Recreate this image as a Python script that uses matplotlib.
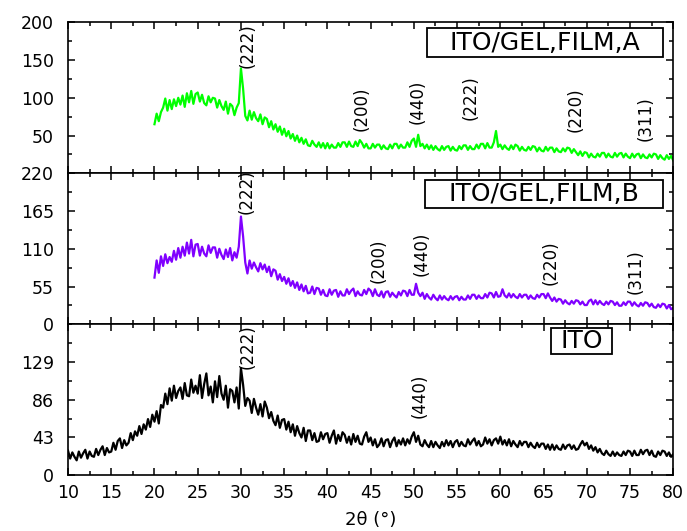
import numpy as np
import matplotlib
matplotlib.use("Agg")
import matplotlib.pyplot as plt
from matplotlib.ticker import MultipleLocator
from matplotlib.patches import Rectangle

plt.rcParams['font.family'] = ['DejaVu Sans']

# 2theta grid, 0.25 deg step
step = 0.25

# ITO (bottom panel), 10..80
ito = [
    28, 19, 26, 21, 17, 27, 20, 25, 29, 19, 27, 22, 21, 30, 23, 29,
    33, 23, 31, 26, 27, 37, 29, 39, 42, 31, 40, 34, 37, 48, 40, 50,
    45, 56, 47, 58, 52, 64, 55, 69, 61, 73, 59, 80, 77, 93, 81, 99,
    85, 102, 88, 96, 100, 87, 105, 91, 90, 109, 94, 102, 93, 114, 88, 104,
    116, 91, 101, 83, 107, 89, 113, 93, 86, 102, 77, 98, 96, 83, 100, 76,
    122, 103, 79, 88, 85, 71, 87, 77, 69, 81, 67, 84, 77, 65, 72, 62,
    57, 68, 54, 63, 64, 52, 61, 49, 58, 45, 56, 48, 43, 54, 39, 51,
    51, 40, 48, 38, 39, 49, 41, 47, 48, 37, 45, 51, 36, 46, 39, 49,
    46, 37, 44, 35, 47, 38, 45, 36, 35, 44, 49, 38, 43, 34, 41, 32,
    35, 42, 33, 40, 41, 32, 39, 43, 33, 40, 35, 42, 34, 41, 36, 44,
    49, 38, 45, 35, 33, 40, 35, 32, 39, 32, 38, 34, 31, 38, 33, 40,
    34, 39, 32, 38, 40, 33, 38, 34, 33, 41, 35, 39, 42, 34, 39, 33,
    35, 43, 36, 41, 34, 40, 42, 36, 44, 35, 40, 34, 41, 33, 39, 35,
    32, 39, 34, 38, 38, 32, 37, 33, 31, 37, 32, 36, 36, 30, 35, 29,
    35, 29, 34, 30, 29, 35, 30, 34, 35, 30, 34, 29, 30, 35, 39, 34,
    37, 30, 34, 28, 32, 26, 30, 25, 23, 28, 24, 22, 27, 22, 26, 23,
    22, 27, 23, 28, 27, 22, 28, 23, 23, 29, 24, 28, 29, 23, 28, 22,
    21, 27, 23, 28, 27, 22, 26, 21, 24,
]

# ITO/GEL,FILM,B (middle panel), 20..80
film_b = [
    68, 93, 75, 99, 85, 102, 89, 98, 91, 107, 94, 111, 97, 113, 100, 119,
    103, 123, 99, 116, 117, 100, 113, 103, 99, 115, 104, 112, 112, 97, 110, 101,
    95, 109, 98, 111, 93, 105, 97, 113, 157, 128, 90, 74, 93, 81, 90, 83,
    77, 89, 80, 87, 76, 84, 70, 80, 78, 65, 73, 63, 69, 59, 67, 56,
    63, 53, 61, 50, 58, 48, 56, 45, 46, 55, 44, 53, 52, 43, 50, 42,
    41, 51, 43, 49, 50, 40, 48, 42, 42, 51, 44, 49, 52, 41, 48, 43,
    42, 50, 44, 52, 49, 41, 51, 43, 41, 48, 39, 47, 48, 40, 46, 42,
    39, 47, 42, 49, 48, 41, 50, 43, 43, 59, 46, 41, 46, 37, 44, 39,
    36, 43, 38, 35, 42, 36, 41, 37, 35, 41, 36, 40, 41, 35, 40, 36,
    36, 42, 37, 43, 43, 37, 42, 38, 38, 44, 39, 46, 45, 39, 47, 40,
    41, 51, 42, 39, 45, 39, 44, 40, 38, 44, 39, 43, 43, 37, 42, 38,
    37, 43, 39, 44, 44, 38, 45, 39, 34, 39, 33, 37, 36, 30, 35, 31,
    29, 34, 30, 35, 34, 29, 33, 28, 28, 34, 36, 29, 35, 29, 34, 30,
    28, 33, 29, 34, 33, 28, 32, 27, 27, 32, 28, 33, 33, 27, 32, 28,
    26, 31, 27, 32, 31, 26, 30, 25, 24, 29, 25, 30, 29, 23, 28, 22,
    24,
]

# ITO/GEL,FILM,A (top panel), 20..80
film_a = [
    65, 79, 69, 81, 87, 99, 83, 97, 85, 98, 89, 100, 91, 103, 88, 106,
    94, 109, 92, 105, 107, 95, 104, 93, 90, 102, 94, 100, 99, 87, 97, 89,
    84, 95, 79, 92, 89, 77, 87, 93, 139, 112, 76, 70, 83, 71, 81, 73,
    69, 78, 65, 74, 72, 61, 69, 58, 65, 55, 62, 51, 59, 49, 56, 46,
    52, 43, 50, 41, 47, 39, 45, 37, 36, 43, 38, 35, 41, 34, 40, 33,
    40, 33, 38, 34, 34, 40, 35, 41, 41, 35, 42, 36, 35, 42, 36, 44,
    40, 34, 39, 33, 33, 39, 34, 38, 38, 32, 37, 33, 32, 38, 33, 39,
    39, 33, 38, 34, 34, 41, 35, 43, 46, 35, 51, 36, 39, 33, 38, 32,
    37, 31, 36, 32, 30, 36, 31, 35, 36, 30, 35, 31, 30, 36, 32, 37,
    37, 31, 36, 32, 32, 38, 33, 39, 39, 33, 40, 34, 34, 41, 56, 35,
    38, 32, 37, 33, 31, 37, 32, 38, 36, 30, 35, 31, 30, 35, 31, 36,
    35, 29, 34, 30, 29, 35, 30, 34, 34, 28, 33, 29, 28, 33, 29, 34,
    33, 27, 32, 28, 24, 29, 23, 28, 27, 21, 26, 22, 21, 26, 22, 27,
    27, 21, 26, 22, 21, 27, 22, 26, 27, 21, 26, 22, 20, 26, 21, 25,
    26, 20, 25, 21, 20, 25, 21, 26, 25, 19, 24, 20, 18, 24, 19, 23,
    17,
]

# peak labels: (hkl, 2theta, height of label centre)
peaks_a = [("(222)", 30.8, 169), ("(200)", 44.0, 85), ("(440)", 50.4, 95),
           ("(222)", 56.6, 100), ("(220)", 68.7, 84), ("(311)", 76.8, 72)]
peaks_b = [("(222)", 30.7, 194), ("(200)", 45.9, 93), ("(440)", 50.9, 103),
           ("(220)", 65.8, 89), ("(311)", 75.7, 77)]
peaks_ito = [("(222)", 30.8, 146), ("(440)", 50.7, 91)]

x_ito = 10 + step * np.arange(len(ito))
x_b = 20 + step * np.arange(len(film_b))
x_a = 20 + step * np.arange(len(film_a))

fig = plt.figure(figsize=(6.87, 5.31), dpi=100)
gs = fig.add_gridspec(3, 1, left=0.099, right=0.98, bottom=0.105, top=0.958, hspace=0)
ax_a = fig.add_subplot(gs[0])
ax_b = fig.add_subplot(gs[1], sharex=ax_a)
ax_c = fig.add_subplot(gs[2], sharex=ax_a)

panels = [
    (ax_a, x_a, film_a, '#00ff00', peaks_a, (0, 200), [50, 100, 150, 200], 25),
    (ax_b, x_b, film_b, '#8000ff', peaks_b, (0, 220), [0, 55, 110, 165, 220], 27.5),
    (ax_c, x_ito, ito, 'black', peaks_ito, (0, 172), [0, 43, 86, 129], 21.5),
]

for ax, xs, ys, col, peaks, ylim, yt, ymin in panels:
    ax.plot(xs, ys, color=col, lw=1.6)
    ax.set_ylim(*ylim)
    ax.set_yticks(yt)
    ax.yaxis.set_minor_locator(MultipleLocator(ymin))
    ax.xaxis.set_major_locator(MultipleLocator(5))
    ax.xaxis.set_minor_locator(MultipleLocator(2.5))
    ax.tick_params(which='both', direction='in', top=True, right=True, width=1.1)
    ax.tick_params(which='major', length=5, labelsize=12.5)
    ax.tick_params(axis='y', which='major', pad=10)
    ax.tick_params(axis='x', which='major', pad=6)
    ax.tick_params(which='minor', length=3)
    for s in ax.spines.values():
        s.set_linewidth(1.2)
    for lab, px, py in peaks:
        ax.text(px, py, lab, rotation=90, ha='center', va='center',
                fontsize=12, color='black', zorder=5)

ax_c.set_xlim(10, 80)
plt.setp(ax_a.get_xticklabels(), visible=False)
plt.setp(ax_b.get_xticklabels(), visible=False)
ax_c.set_xlabel('2θ (°)', fontsize=13, labelpad=7)

# framed sample names
names = [
    (ax_a, 'ITO/GEL,FILM,A', (0.593, 0.767, 0.390, 0.193)),
    (ax_b, 'ITO/GEL,FILM,B', (0.590, 0.768, 0.393, 0.186)),
    (ax_c, 'ITO', (0.798, 0.803, 0.100, 0.171)),
]
for ax, name, (bx, by, bw, bh) in names:
    ax.add_patch(Rectangle((bx, by), bw, bh, transform=ax.transAxes,
                           fc='white', ec='black', lw=1.3, zorder=6))
    ax.text(bx + bw / 2, by + bh / 2, name, transform=ax.transAxes,
            ha='center', va='center', fontsize=18, zorder=7)

fig.savefig('out.png', dpi=100)
